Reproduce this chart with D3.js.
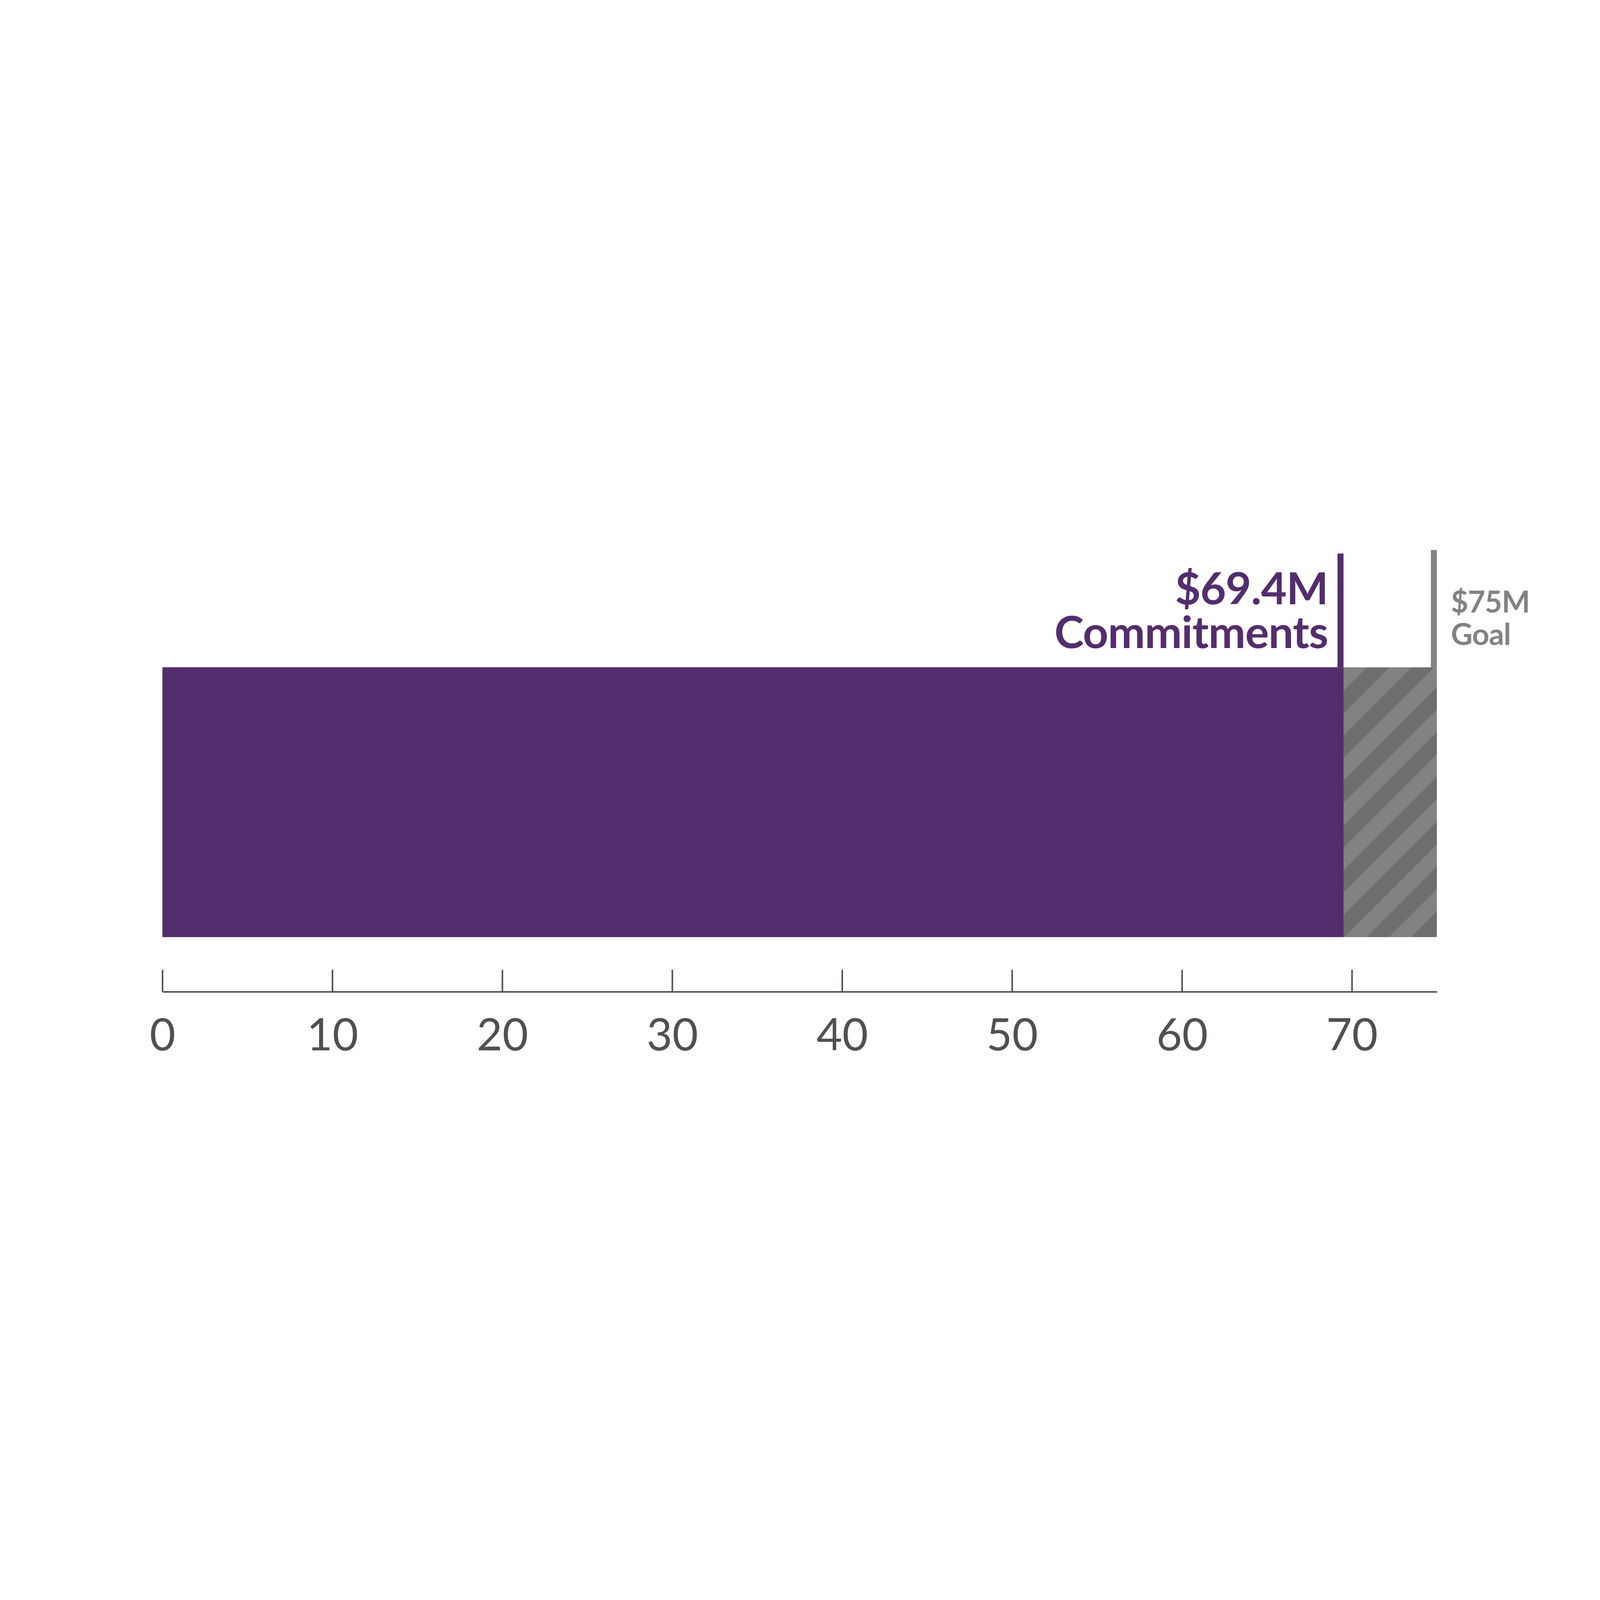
<!DOCTYPE html>
<html>
<head>
<meta charset="utf-8">
<script src="https://cdn.jsdelivr.net/npm/d3@7"></script>
<style>
	html, body { margin: 0; padding: 0; background: #fff; overflow: hidden; }
	#chart-area svg { display: block; width: 100vw; height: 100vh; }
</style>
</head>
<body>
<div id="chart-area"></div>
<script>
// data
var categories = ["Commitments"];
var commitments = [69.4];
var goal = [75];
var tickValues = [0, 10, 20, 30, 40, 50, 60, 70];
var commitLabels = ["$69.4M", "Commitments"];
var goalLabels = ["$75M", "Goal"];

var width = 7200;
var height = 5400;

var purple = "#532d6d";
var grey = "#828282";
var greyDark = "#6e6e6e";
var axisColor = "#505050";

// drawn in a 7200x5400 space, scaled to the window
var svg = d3.select("#chart-area").append("svg")
	.attr("viewBox", "0 0 " + width + " " + height)
	.attr("preserveAspectRatio", "xMidYMid meet");

svg.append("rect")
	.attr("width", width)
	.attr("height", height)
	.attr("fill", "#fff");

var x = d3.scaleLinear()
	.domain([0, 75])
	.range([731, 6466]);

var y = d3.scaleBand()
	.domain(categories)
	.range([2103, 3317]);

// hatch for the remaining part of the goal
var defs = svg.append("defs");
var pat = defs.append("pattern")
	.attr("id", "hatch")
	.attr("patternUnits", "userSpaceOnUse")
	.attr("x", 174)
	.attr("y", 0)
	.attr("width", 202)
	.attr("height", 202);
pat.append("rect")
	.attr("width", 202)
	.attr("height", 202)
	.attr("fill", grey);
pat.append("polygon")
	.attr("points", "0,0 101,0 0,101")
	.attr("fill", greyDark);
pat.append("polygon")
	.attr("points", "202,0 202,101 101,202 0,202")
	.attr("fill", greyDark);

var g = svg.append("g");

// goal bar (hatched)
g.selectAll(".goal-bar").data(goal).enter()
	.append("rect")
		.attr("class", "goal-bar")
		.attr("x", x(0))
		.attr("y", y(categories[0]))
		.attr("width", (d) => x(d) - x(0))
		.attr("height", y.bandwidth())
		.attr("fill", "url(#hatch)");

// commitments bar
g.selectAll(".commit-bar").data(commitments).enter()
	.append("rect")
		.attr("class", "commit-bar")
		.attr("x", x(0))
		.attr("y", y(categories[0]))
		.attr("width", (d) => x(d) - x(0) + 8)
		.attr("height", y.bandwidth())
		.attr("fill", purple);

// marker lines
var barTop = y(categories[0]);
var lineW = 27;

g.selectAll(".goal-line").data(goal).enter()
	.append("rect")
		.attr("class", "goal-line")
		.attr("x", (d) => x(d) - lineW)
		.attr("y", barTop - 528)
		.attr("width", lineW)
		.attr("height", 528)
		.attr("fill", grey);

g.selectAll(".commit-line").data(commitments).enter()
	.append("rect")
		.attr("class", "commit-line")
		.attr("x", (d) => x(d) - lineW + 8)
		.attr("y", barTop - 512)
		.attr("width", lineW)
		.attr("height", 512)
		.attr("fill", purple);

// labels, one text per line
g.selectAll(".commit-label").data(commitLabels).enter()
	.append("text")
		.attr("class", "commit-label")
		.attr("text-anchor", "end")
		.attr("font-family", "Lato, 'Open Sans', sans-serif")
		.attr("font-weight", "bold")
		.attr("font-size", "200px")
		.attr("letter-spacing", "-2px")
		.attr("x", x(commitments[0]) - 62)
		.attr("y", (d, i) => barTop - 283 + i * 196)
		.style("fill", purple)
		.text((d) => d);

g.selectAll(".goal-label").data(goalLabels).enter()
	.append("text")
		.attr("class", "goal-label")
		.attr("text-anchor", "start")
		.attr("font-family", "Lato, 'Open Sans', sans-serif")
		.attr("font-weight", "bold")
		.attr("font-size", "135px")
		.attr("letter-spacing", "-2px")
		.attr("x", x(goal[0]) + 63)
		.attr("y", (d, i) => barTop - 247 + i * 146)
		.style("fill", grey)
		.text((d) => d);

// bottom axis, ticks pointing up
var bottomAxis = d3.axisBottom(x)
	.tickValues(tickValues)
	.tickSizeInner(-99)
	.tickSizeOuter(0)
	.tickPadding(122)
	.tickFormat(d3.format("d"));

var axisG = g.append("g")
	.attr("class", "bottom axis")
	.attr("transform", "translate(0, 3563)")
	.call(bottomAxis);

axisG.select(".domain")
	.attr("stroke", axisColor)
	.attr("stroke-width", 7);
axisG.selectAll(".tick line")
	.attr("stroke", axisColor)
	.attr("stroke-width", 7);
axisG.selectAll(".tick text")
	.attr("font-family", "Lato, 'Open Sans', sans-serif")
	.attr("font-weight", 400)
	.attr("font-size", "200px")
	.style("fill", axisColor);
</script>
</body>
</html>
